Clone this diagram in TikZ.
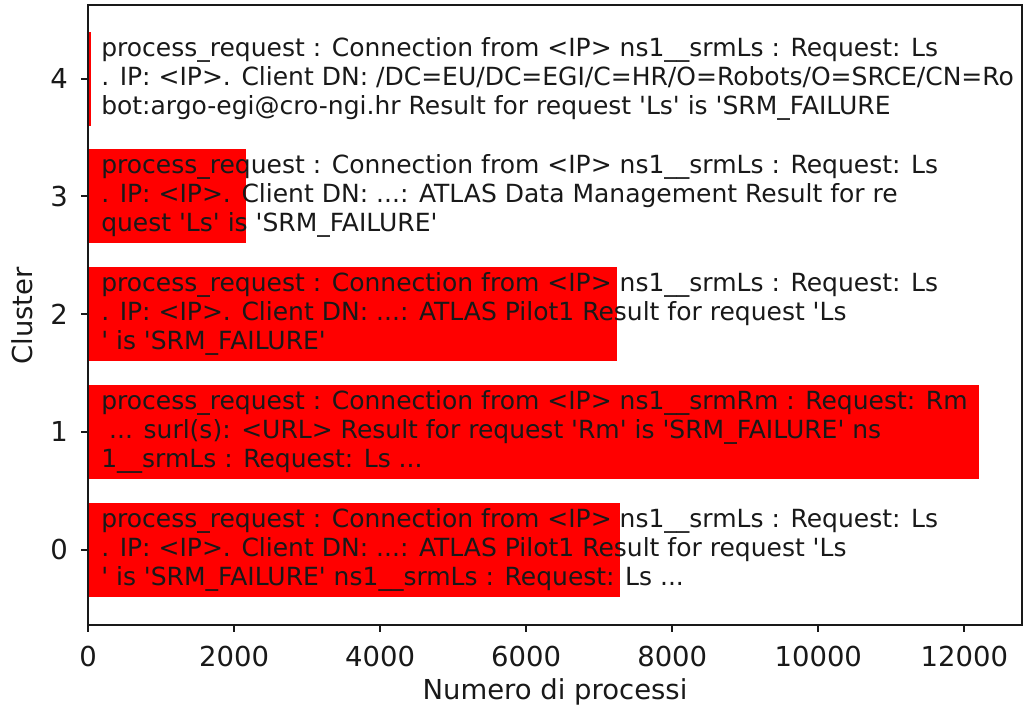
\documentclass[tikz,border=0pt]{standalone}
\usepackage{fontspec}
\newfontfamily\dv{DejaVu Sans}
\begin{document}
\begin{tikzpicture}[x=0.75pt,y=-0.75pt,
  every node/.style={font=\dv\fontsize{20.6}{24}\selectfont, text=black!90},
  bar/.style={fill=red, draw=none},
  lbl/.style={anchor=west, inner sep=0pt, align=left, font=\dv\fontsize{18.75}{21.75}\selectfont},
  axisline/.style={draw=black!90, line width=1.5},
  ticklbl/.style={inner sep=0pt}]
\useasboundingbox (0,0) rectangle (1024,714);
% bars
\fill[bar] (88,502.5) rectangle (620,596.5);
\fill[bar] (88,384.8) rectangle (979.3,478.8);
\fill[bar] (88,267.1) rectangle (617,361.1);
\fill[bar] (88,149.4) rectangle (245.7,243.4);
\fill[bar] (88,31.7) rectangle (90.5,125.7);
% texts
\node[lbl] (t4) at (101,78.7) {process\_request : Connection from <IP> ns1\_\_srmLs : Request: Ls\\. IP: <IP>. Client DN: /DC=EU/DC=EGI/C=HR/O=Robots/O=SRCE/CN=Ro\\bot:argo-egi@cro-ngi.hr Result for request 'Ls' is 'SRM\_FAILURE};
\node[lbl] (t3) at (101,196.4) {process\_request : Connection from <IP> ns1\_\_srmLs : Request: Ls\\. IP: <IP>. Client DN: ...: ATLAS Data Management Result for re\\quest 'Ls' is 'SRM\_FAILURE'};
\node[lbl] (t2) at (101,314.1) {process\_request : Connection from <IP> ns1\_\_srmLs : Request: Ls\\. IP: <IP>. Client DN: ...: ATLAS Pilot1 Result for request 'Ls\\' is 'SRM\_FAILURE'};
\node[lbl] (t1) at (101,431.8) {process\_request : Connection from <IP> ns1\_\_srmRm : Request: Rm\\\hspace*{0.318em}... surl(s): <URL> Result for request 'Rm' is 'SRM\_FAILURE' ns\\1\_\_srmLs : Request: Ls ...};
\node[lbl] (t0) at (101,549.5) {process\_request : Connection from <IP> ns1\_\_srmLs : Request: Ls\\. IP: <IP>. Client DN: ...: ATLAS Pilot1 Result for request 'Ls\\' is 'SRM\_FAILURE' ns1\_\_srmLs : Request: Ls ...};
% frame
\draw[axisline] (88,5) rectangle (1022,625);
% y ticks
\foreach \i/\c in {0/549.5,1/431.8,2/314.1,3/196.4,4/78.7}{
  \draw[axisline] (81,\c) -- (88,\c);
  \node[ticklbl, anchor=east] (y\i) at (68,\c) {\i};
}
% x ticks
\foreach \v in {0,2000,4000,6000,8000,10000,12000}{
  \draw[axisline] ({88+\v*0.07303},625) -- ({88+\v*0.07303},632);
  \node[ticklbl, anchor=north] (x\v) at ({88+\v*0.07303},646) {\v};
}
\node (xl) at (555,692) {Numero di processi};
\node[rotate=90] (yl) at (22,316) {Cluster};
\end{tikzpicture}
\end{document}
